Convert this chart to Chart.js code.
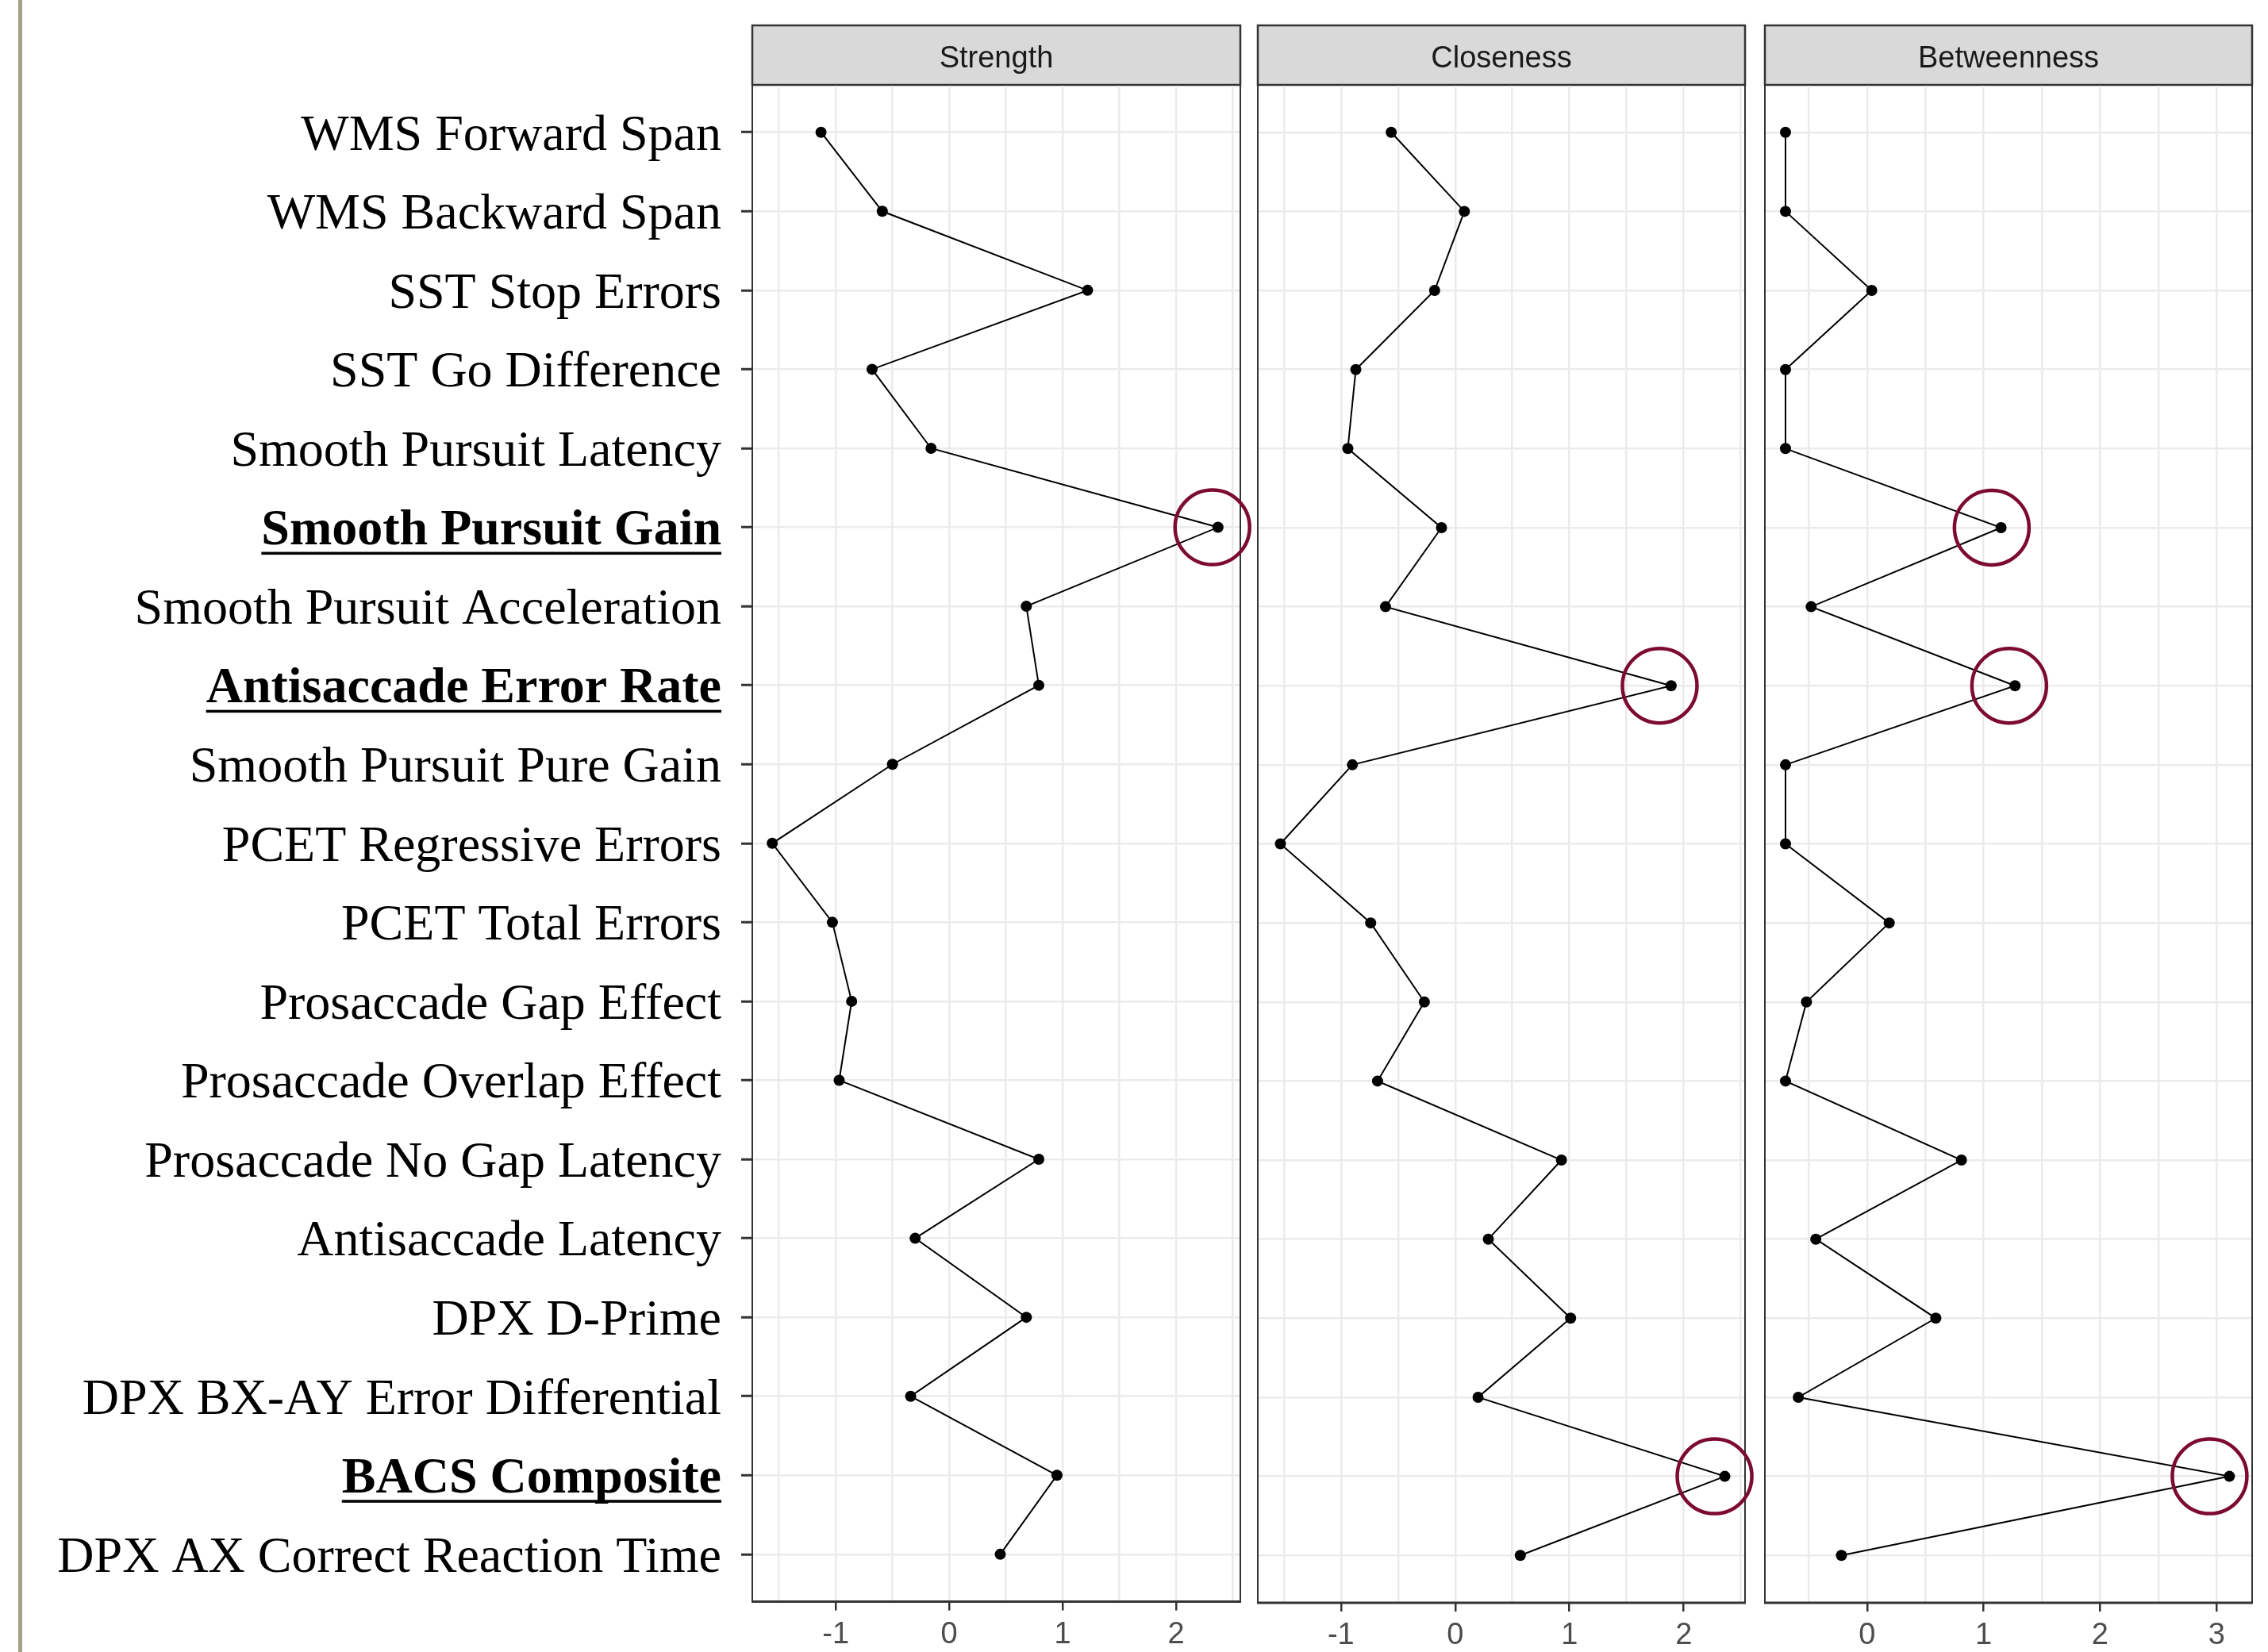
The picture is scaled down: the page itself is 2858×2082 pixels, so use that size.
<!DOCTYPE html>
<html>
<head>
<meta charset="utf-8">
<script src="https://cdn.jsdelivr.net/npm/chart.js@4.4.1/dist/chart.umd.min.js"></script>
<style>
  html, body { margin: 0; padding: 0; background: #fff; }
  body { width: 2858px; height: 2082px; position: relative; overflow: hidden; }
  .slide-edge { position: absolute; left: 23px; top: 0; width: 5px; height: 2082px; background: #a4a186; }
  canvas { position: absolute; top: 0; }
</style>
</head>
<body>
<div class="slide-edge"></div>
<canvas id="strengthChart" width="1582" height="2082" style="left:0px"></canvas>
<canvas id="closenessChart" width="650" height="2082" style="left:1565px"></canvas>
<canvas id="betweennessChart" width="653" height="2082" style="left:2205px"></canvas>
<script>
// measures, top to bottom
var measures = [
    "WMS Forward Span", "WMS Backward Span", "SST Stop Errors", "SST Go Difference",
    "Smooth Pursuit Latency", "Smooth Pursuit Gain", "Smooth Pursuit Acceleration",
    "Antisaccade Error Rate", "Smooth Pursuit Pure Gain", "PCET Regressive Errors",
    "PCET Total Errors", "Prosaccade Gap Effect", "Prosaccade Overlap Effect",
    "Prosaccade No Gap Latency", "Antisaccade Latency", "DPX D-Prime",
    "DPX BX-AY Error Differential", "BACS Composite", "DPX AX Correct Reaction Time"
];
var highlighted = ["Smooth Pursuit Gain", "Antisaccade Error Rate", "BACS Composite"];

// centrality z-scores
var strength    = [-1.13, -0.59, 1.22, -0.68, -0.16, 2.37, 0.68, 0.79, -0.50, -1.56, -1.03, -0.86, -0.97, 0.79, -0.30, 0.68, -0.34, 0.95, 0.45];
var closeness   = [-0.56, 0.08, -0.18, -0.87, -0.94, -0.12, -0.61, 1.89, -0.90, -1.53, -0.74, -0.27, -0.68, 0.93, 0.29, 1.01, 0.20, 2.36, 0.57];
var betweenness = [-0.70, -0.70, 0.04, -0.70, -0.70, 1.15, -0.48, 1.27, -0.70, -0.70, 0.19, -0.52, -0.70, 0.81, -0.44, 0.59, -0.59, 3.11, -0.22];

// hand-drawn rings: measure + x value of ring centre
var strengthRings    = [["Smooth Pursuit Gain", 2.32]];
var closenessRings   = [["Antisaccade Error Rate", 1.79], ["BACS Composite", 2.27]];
var betweennessRings = [["Smooth Pursuit Gain", 1.07], ["Antisaccade Error Rate", 1.22], ["BACS Composite", 2.94]];

Chart.defaults.font.family = "Liberation Sans";

var STRIP_TOP = 32;
var LABEL_SHIFT = 5;

var panelFrame = {
    id: 'panelFrame',
    beforeDraw: function(chart, args, opts) {
        var ctx = chart.ctx, a = chart.chartArea;
        ctx.save();
        ctx.fillStyle = '#d9d9d9';
        ctx.fillRect(a.left, STRIP_TOP, a.right - a.left, a.top - STRIP_TOP);
        ctx.strokeStyle = '#333333';
        ctx.lineWidth = 2.5;
        ctx.strokeRect(a.left, STRIP_TOP, a.right - a.left, a.top - STRIP_TOP);
        ctx.fillStyle = '#1a1a1a';
        ctx.font = '38px "Liberation Sans"';
        ctx.textAlign = 'center';
        ctx.textBaseline = 'middle';
        ctx.fillText(opts.title, (a.left + a.right) / 2, 75);
        ctx.restore();
    },
    beforeDatasetsDraw: function(chart) {
        var ctx = chart.ctx, a = chart.chartArea;
        ctx.save();
        ctx.strokeStyle = '#333333';
        ctx.lineWidth = 2;
        ctx.strokeRect(a.left, a.top, a.right - a.left, a.bottom - a.top);
        ctx.lineWidth = 3;
        ctx.beginPath();
        ctx.moveTo(a.left - 1, a.bottom);
        ctx.lineTo(a.right + 1, a.bottom);
        ctx.stroke();
        ctx.restore();
    }
};

// underline the highlighted measure names
var underline = {
    id: 'underline',
    afterDraw: function(chart) {
        var y = chart.scales.y;
        if (!y.options.ticks.display) return;
        var ctx = chart.ctx;
        var right = y.right - y.options.grid.tickLength - y.options.ticks.padding;
        ctx.save();
        ctx.font = 'bold 64px "Liberation Serif"';
        ctx.fillStyle = '#000';
        highlighted.forEach(function(name) {
            var idx = measures.indexOf(name);
            var w = ctx.measureText(name).width;
            var py = y.getPixelForValue(idx) + LABEL_SHIFT;
            ctx.fillRect(right - w, py + 26, w, 3.5);
        });
        ctx.restore();
    }
};

function makeChart(id, title, values, rings, xmin, xmax, showLabels, padLeft, padRight) {
    var ctx = document.getElementById(id);
    return new Chart(ctx, {
        type: 'scatter',
        data: {
            datasets: [{
                data: rings.map(function(r) { return { x: r[1], y: measures.indexOf(r[0]) }; }),
                pointRadius: 47,
                pointHoverRadius: 47,
                pointBorderWidth: 4.5,
                pointBorderColor: '#7d0b31',
                pointBackgroundColor: 'rgba(0,0,0,0)',
                showLine: false,
                clip: false
            }, {
                data: values.map(function(v, i) { return { x: v, y: i }; }),
                showLine: true,
                borderColor: '#000',
                borderWidth: 2,
                pointRadius: 7,
                pointHoverRadius: 7,
                pointBorderWidth: 0,
                pointBackgroundColor: '#000'
            }]
        },
        options: {
            responsive: false,
            devicePixelRatio: 1,
            animation: false,
            events: [],
            layout: {
                autoPadding: false,
                padding: { top: 107, bottom: 0, left: padLeft, right: padRight }
            },
            plugins: {
                legend: { display: false },
                tooltip: { enabled: false },
                panelFrame: { title: title }
            },
            scales: {
                x: {
                    type: 'linear',
                    min: xmin,
                    max: xmax,
                    afterFit: function(s) { s.height = 62; },
                    border: { display: false },
                    grid: {
                        color: '#ebebeb',
                        lineWidth: 2.5,
                        drawTicks: true,
                        tickLength: 11,
                        tickWidth: 2.5,
                        tickColor: function(c) {
                            return c.tick && Number.isInteger(c.tick.value) ? '#333333' : 'rgba(0,0,0,0)';
                        }
                    },
                    ticks: {
                        stepSize: 0.5,
                        includeBounds: false,
                        autoSkip: false,
                        maxRotation: 0,
                        padding: 8,
                        color: '#4d4d4d',
                        font: { size: 38 },
                        callback: function(v) { return Number.isInteger(v) ? String(v) : ''; }
                    }
                },
                y: {
                    type: 'linear',
                    min: -0.6,
                    max: 18.6,
                    reverse: true,
                    afterFit: function(s) { s.width = showLabels ? 948 : 0; },
                    border: { display: false },
                    grid: {
                        color: '#ebebeb',
                        lineWidth: 2.5,
                        drawTicks: showLabels,
                        tickLength: 14,
                        tickWidth: 3,
                        tickColor: '#333333'
                    },
                    ticks: {
                        display: showLabels,
                        stepSize: 1,
                        includeBounds: false,
                        autoSkip: false,
                        padding: 25,
                        labelOffset: LABEL_SHIFT,
                        color: '#000',
                        font: function(c) {
                            var name = c.tick ? measures[c.tick.value] : '';
                            return {
                                family: 'Liberation Serif',
                                size: 64,
                                weight: highlighted.indexOf(name) >= 0 ? 'bold' : 'normal'
                            };
                        },
                        callback: function(v) { return measures[v]; }
                    }
                }
            }
        },
        plugins: [panelFrame, underline]
    });
}

makeChart('strengthChart', 'Strength', strength, strengthRings, -1.736, 2.567, true, 0, 19);
makeChart('closenessChart', 'Closeness', closeness, closenessRings, -1.728, 2.537, false, 20, 16);
makeChart('betweennessChart', 'Betweenness', betweenness, betweennessRings, -0.877, 3.305, false, 19, 20);
</script>
</body>
</html>
